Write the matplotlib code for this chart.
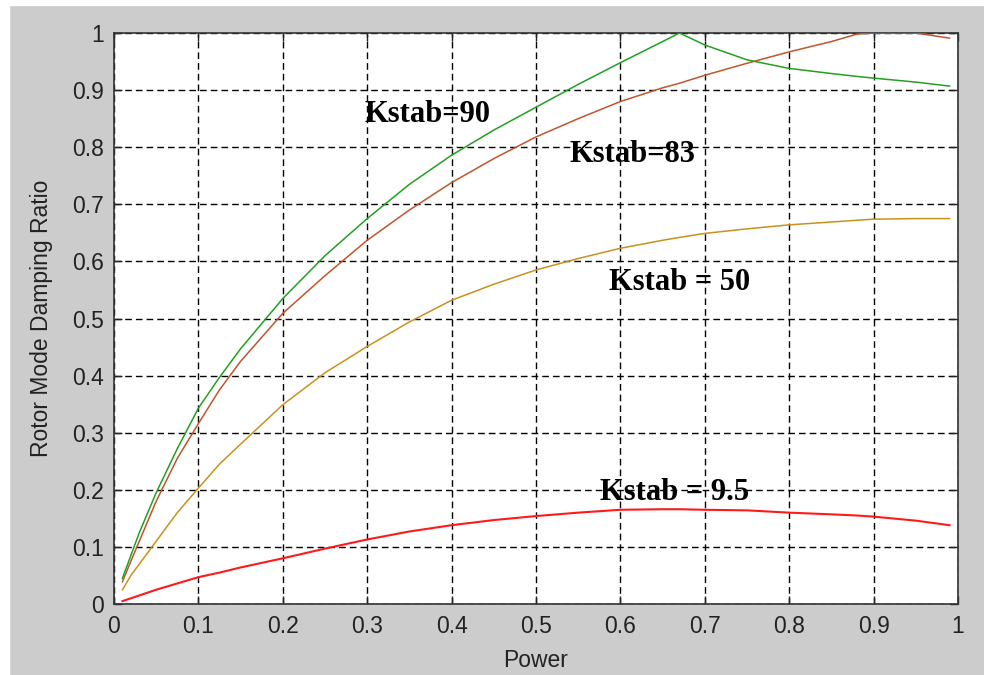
import matplotlib
matplotlib.use('Agg')
import matplotlib.pyplot as plt
from matplotlib.patches import Rectangle

# Power (x) sample points
power = [0.01, 0.02, 0.03, 0.05, 0.075, 0.1, 0.125, 0.15, 0.2, 0.25, 0.3, 0.35,
         0.4, 0.45, 0.5, 0.55, 0.6, 0.65, 0.67, 0.7, 0.75, 0.8, 0.85, 0.88,
         0.9, 0.95, 0.99]

kstab_90 = [0.045, 0.085, 0.125, 0.195, 0.272, 0.343, 0.397, 0.447, 0.535, 0.61,
            0.675, 0.735, 0.786, 0.83, 0.870, 0.91, 0.948, 0.985, 1.0, 0.979,
            0.953, 0.938, 0.929, 0.924, 0.921, 0.914, 0.907]

kstab_83 = [0.039, 0.075, 0.11, 0.18, 0.255, 0.316, 0.375, 0.425, 0.509, 0.575,
            0.637, 0.69, 0.738, 0.78, 0.818, 0.85, 0.880, 0.904, 0.912, 0.926,
            0.947, 0.967, 0.985, 0.998, 1.0, 1.0, 0.991]

kstab_50 = [0.025, 0.05, 0.07, 0.11, 0.16, 0.203, 0.245, 0.28, 0.349, 0.405,
            0.451, 0.494, 0.532, 0.56, 0.585, 0.605, 0.623, 0.637, 0.642, 0.649,
            0.657, 0.664, 0.669, 0.672, 0.674, 0.675, 0.675]

kstab_9_5 = [0.005, 0.01, 0.015, 0.025, 0.036, 0.047, 0.055, 0.064, 0.080, 0.097,
             0.113, 0.127, 0.138, 0.147, 0.154, 0.160, 0.165, 0.166, 0.166, 0.165,
             0.164, 0.160, 0.157, 0.155, 0.153, 0.146, 0.138]

ticks = [0, 0.1, 0.2, 0.3, 0.4, 0.5, 0.6, 0.7, 0.8, 0.9, 1]
tick_labels = ['0', '0.1', '0.2', '0.3', '0.4', '0.5', '0.6', '0.7', '0.8', '0.9', '1']

labels = ['Kstab=90', 'Kstab=83', 'Kstab = 50', 'Kstab = 9.5']
label_pos = [(0.297, 0.858), (0.540, 0.788), (0.587, 0.563), (0.576, 0.195)]

fig = plt.figure(figsize=(9.84, 6.75), dpi=100, facecolor='#cccccc')
# white screenshot border on top and left
fig.patches.append(Rectangle((0, 0), 9 / 984, 1, transform=fig.transFigure,
                             color='white', zorder=0))
fig.patches.append(Rectangle((0, 1 - 5 / 675), 1, 5 / 675, transform=fig.transFigure,
                             color='white', zorder=0))

ax = fig.add_axes([114 / 984, 71 / 675, 844 / 984, 571 / 675])
ax.set_facecolor('white')

ax.plot(power, kstab_9_5, color='#ff1a1a', lw=1.5, zorder=3)
ax.plot(power, kstab_50, color='#c8921c', lw=1.1, zorder=3)
ax.plot(power, kstab_83, color='#c0552e', lw=1.1, zorder=3)
ax.plot(power, kstab_90, color='#22a022', lw=1.1, zorder=3)

ax.set_xlim(0, 1)
ax.set_ylim(0, 1)
ax.set_xticks(ticks)
ax.set_xticklabels(tick_labels)
ax.set_yticks(ticks)
ax.set_yticklabels(tick_labels)

ax.grid(True, color='black', lw=1.0, linestyle=(0, (4.8, 2.9)), zorder=1)
ax.tick_params(direction='in', length=6, width=1.0, top=True, right=True,
               labelsize=16.5, labelcolor='#222222', color='#222222')
ax.tick_params(axis='y', pad=7)
ax.tick_params(axis='x', pad=8)
for s in ax.spines.values():
    s.set_linewidth(1.2)
    s.set_color('#333333')

for tl in ax.get_xticklabels() + ax.get_yticklabels():
    tl.set_family('Liberation Sans')

ax.set_xlabel('Power', fontsize=16.5, family='Liberation Sans', color='#222222',
              labelpad=8)
ax.set_ylabel('Rotor Mode Damping Ratio', fontsize=16.5, family='Liberation Sans',
              color='#222222', labelpad=14)

for txt, (tx, ty) in zip(labels, label_pos):
    ax.text(tx, ty, txt, fontsize=22, fontweight='bold', family='Liberation Serif',
            ha='left', va='center', color='black', zorder=4)

fig.savefig('out.png', dpi=100, facecolor=fig.get_facecolor())
